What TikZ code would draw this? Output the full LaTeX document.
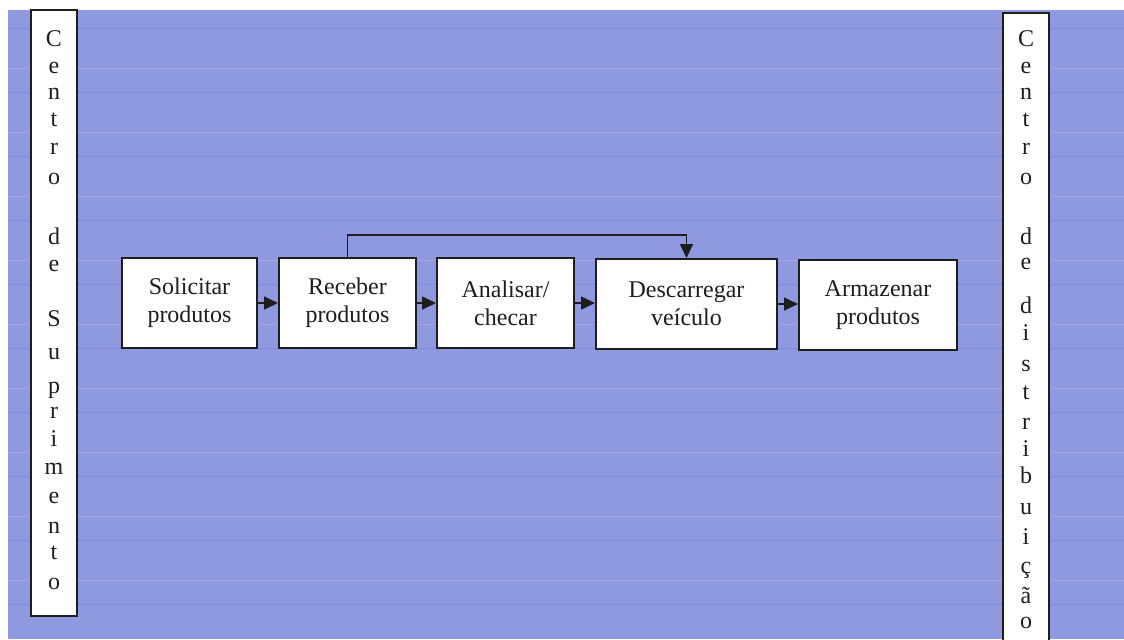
\documentclass[tikz,border=0pt]{standalone}
\usepackage{fontspec}
\setmainfont{Liberation Serif}
\usetikzlibrary{arrows.meta,calc}

\definecolor{sheet}{RGB}{143,153,224}
\definecolor{ruleblue}{RGB}{105,115,210}
\definecolor{rulepink}{RGB}{205,175,225}
\definecolor{ink}{RGB}{30,30,30}

\tikzset{
  stepbox/.style={draw=ink, line width=1pt, fill=white, inner sep=0pt,
    minimum height=45pt, align=center, font=\fontsize{12}{14}\selectfont, text=ink},
  flow/.style={draw=ink, line width=0.8pt, -{Triangle[length=7pt,width=6.5pt]}},
  sidebar/.style={draw=ink, line width=1pt, fill=white},
  letter/.style={anchor=base, inner sep=0pt, font=\fontsize{12}{14}\selectfont, text=ink}
}

\begin{document}
\begin{tikzpicture}[x=0.5pt, y=-0.5pt]
  \useasboundingbox (0,0) rectangle (1124,639);
  \clip (0,0) rectangle (1124,639);

  % ruled blue sheet
  \fill[sheet] (8,10) rectangle (1124,639);
  \foreach \yy in {28,92,156,220,284,348,412,476,540,604}
    \draw[ruleblue, line width=0.5pt, opacity=0.35] (8,\yy) -- (1124,\yy);
  \foreach \yy in {68,132,196,260,324,388,452,516,580}
    \draw[rulepink, line width=0.5pt, opacity=0.4] (8,\yy) -- (1124,\yy);

  % side bars
  \filldraw[sidebar] (31,10) rectangle (77,616);
  \filldraw[sidebar] (1003,645) -- (1003,13) -- (1049,13) -- (1049,645);

  \foreach \ch/\yy in {C/40, e/67, n/93, t/120, r/148, o/178, d/238, e/265,
                       S/320, u/353, p/387, r/412, i/440, m/468, e/497, n/527, t/553, o/583}
    \node[letter] (L-\yy) at (54,\yy+6) {\ch};

  \foreach \ch/\yy in {C/40, e/67, n/93, t/120, r/148, o/178, d/238, e/263,
                       d/307, i/334, s/365, t/393, r/423, i/450, b/477, u/508,
                       i/538, ç/567, ã/597, o/622}
    \node[letter] (R-\yy) at (1026,\yy+6) {\ch};

  % process steps
  \node[stepbox, minimum width=67.5pt] (sol) at (189.5,303) {Solicitar\\produtos};
  \node[stepbox, minimum width=68.5pt] (rec) at (347.5,303) {Receber\\produtos};
  \node[stepbox, minimum width=68.5pt] (ana) at (505.5,303) {Analisar/\\checar};
  \node[stepbox, minimum width=90.5pt] (des) at (686.5,304) {Descarregar\\veículo};
  \node[stepbox, minimum width=79pt]   (arm) at (878,305)   {Armazenar\\produtos};

  % connectors
  \draw[flow] (sol.east) -- (sol.east -| rec.west);
  \draw[flow] (rec.east) -- (rec.east -| ana.west);
  \draw[flow] (ana.east) -- (ana.east -| des.west);
  \draw[flow] (des.east) -- (des.east -| arm.west);
  \draw[flow] (rec.north) -- ++(0,-22) -| (des.north);
\end{tikzpicture}
\end{document}
